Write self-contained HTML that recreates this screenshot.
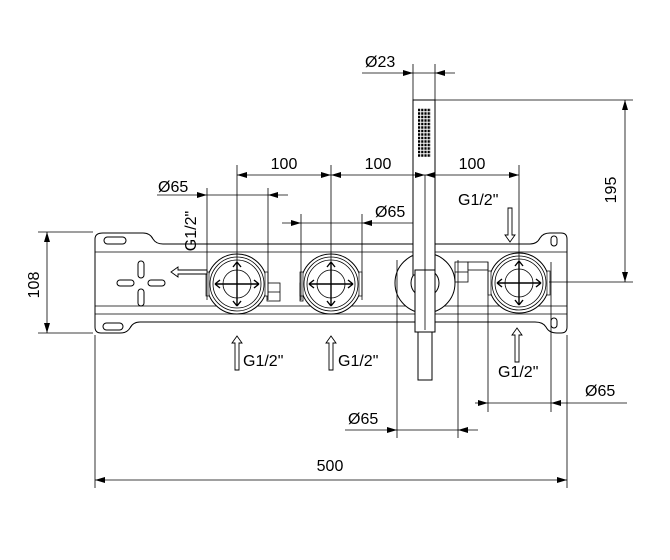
<!DOCTYPE html>
<html><head><meta charset="utf-8"><style>
html,body{margin:0;padding:0;background:#fff}
svg{display:block}
text{font-family:"Liberation Sans",Arial,sans-serif;font-size:16px;fill:#000}
</style></head><body>
<svg width="670" height="560" viewBox="0 0 670 560" xmlns="http://www.w3.org/2000/svg">
<defs>
<marker id="a" markerWidth="10" markerHeight="6" refX="10" refY="3" orient="auto-start-reverse" markerUnits="userSpaceOnUse"><path d="M0,0 L10,3 L0,6 z" fill="#000"/></marker>
<g id="valve">
 <circle r="30" fill="#fff" stroke="#000" stroke-width="1"/>
 <circle r="27" fill="none" stroke="#000" stroke-width="0.8"/>
 <circle r="24" fill="none" stroke="#000" stroke-width="0.8"/>
 <circle r="14" fill="none" stroke="#000" stroke-width="0.8"/>
 <rect x="-31" y="-12" width="3" height="24" fill="#fff" stroke="#000" stroke-width="0.7"/>
 <rect x="28" y="-12" width="3" height="24" fill="#fff" stroke="#000" stroke-width="0.7"/>
 <path d="M-22,0 L22,0 M0,-22 L0,22 M-22,0 L-17,-4 M-22,0 L-17,4 M22,0 L17,-4 M22,0 L17,4 M0,-22 L-4,-17 M0,-22 L4,-17 M0,22 L-4,17 M0,22 L4,17" stroke="#000" stroke-width="1.4" fill="none"/>
</g>
</defs>
<g fill="none" stroke="#000" stroke-width="1">
 <path d="M103,233 L143,233 Q150,233 153,239 Q156,244 163,244 L530,244 Q537,244 540,238 Q543,233 550,233 L561,233 Q567,233 567,239 L567,327 Q567,333 561,333 L557,333 Q549,333 546,327 Q543,322 535,322 L140,322 Q133,322 130,328 Q127,333 120,333 L101,333 Q95,333 95,327 L95,239 Q95,233 103,233 Z"/>
 <path d="M95,252 L567,252 M95,306 L567,306 M95,314 L567,314" stroke-width="0.8"/>
 <rect x="104" y="237" width="22" height="7" rx="3.5"/>
 <rect x="103" y="323" width="20" height="7" rx="3.5"/>
 <rect x="551" y="236" width="6" height="10" rx="3"/>
 <rect x="551" y="318" width="6" height="10" rx="3"/>
 <rect x="138" y="261" width="6" height="17" rx="3"/>
 <rect x="138" y="289" width="6" height="17" rx="3"/>
 <rect x="117" y="280" width="17" height="6" rx="3"/>
 <rect x="148" y="280" width="17" height="6" rx="3"/>
 <rect x="267" y="283" width="13" height="18" fill="#fff" stroke-width="0.8"/>
 <path d="M267,292 L280,292" stroke-width="0.8"/>
 <rect x="300" y="283" width="3" height="18" fill="#fff" stroke-width="0.8"/>
 <rect x="455" y="262" width="13" height="20" fill="#fff" stroke-width="0.8"/>
 <path d="M455,272 L468,272" stroke-width="0.8"/>
 <rect x="468" y="262" width="20" height="8" fill="#fff" stroke-width="0.8"/>
</g>
<use href="#valve" x="237" y="284"/>
<use href="#valve" x="331" y="284"/>
<use href="#valve" x="519" y="283"/>
<g fill="#fff" stroke="#000" stroke-width="1">
 <circle cx="425" cy="283" r="30"/>
 <ellipse cx="425" cy="283" rx="14" ry="14"/>
 <rect x="413" y="100" width="22" height="175"/>
 <rect x="415" y="270" width="20" height="62"/>
 <rect x="418" y="332" width="14" height="48"/>
</g>
<path d="M425,175 L425,330" stroke="#000" stroke-width="0.8"/>
<g stroke="#000" stroke-width="2.6" stroke-dasharray="2.2 1">
 <path d="M418,110 L431,110 M418,113.5 L431,113.5 M418,117 L431,117 M418,120.5 L431,120.5 M418,124 L431,124 M418,127.5 L431,127.5 M418,131 L431,131 M418,134.5 L431,134.5 M418,138 L431,138 M418,141.5 L431,141.5 M418,145 L431,145 M418,148.5 L431,148.5 M418,152 L431,152 M418,155.5 L431,155.5"/>
</g>
<g fill="none" stroke="#000" stroke-width="0.8">
 <path d="M95,335 L95,488 M567,335 L567,488"/>
 <path d="M95,480 L567,480" marker-start="url(#a)" marker-end="url(#a)"/>
 <path d="M38,232 L93,232 M38,333 L93,333"/>
 <path d="M47,232 L47,333" marker-start="url(#a)" marker-end="url(#a)"/>
 <path d="M435,100 L633,100 M549,282 L633,282"/>
 <path d="M625,100 L625,282" marker-start="url(#a)" marker-end="url(#a)"/>
 <path d="M413,64 L413,100 M435,64 L435,100"/>
 <path d="M237,165 L237,262 M331,165 L331,262 M519,165 L519,262"/>
 <path d="M237,175 L331,175" marker-start="url(#a)" marker-end="url(#a)"/>
 <path d="M331,175 L425,175" marker-start="url(#a)" marker-end="url(#a)"/>
 <path d="M425,175 L519,175" marker-start="url(#a)" marker-end="url(#a)"/>
 <path d="M207,188 L207,300 M268,188 L268,300"/>
 <path d="M301,214 L301,300 M362,214 L362,300"/>
 <path d="M397,260 L397,438 M458,260 L458,438"/>
 <path d="M488,262 L488,412 M551,262 L551,412"/>
 <!-- continuous dim lines with outside arrows -->
 <path d="M362,73 L455,73"/>
 <path d="M157,195 L288,195"/>
 <path d="M282,223 L413,223"/>
 <path d="M345,430 L478,430"/>
 <path d="M475,403 L627,403"/>
</g>
<g fill="#000">
 <path d="M403,70 L413,73 L403,76 Z M445,70 L435,73 L445,76 Z"/>
 <path d="M197,192 L207,195 L197,198 Z M278,192 L268,195 L278,198 Z"/>
 <path d="M291,220 L301,223 L291,226 Z M372,220 L362,223 L372,226 Z"/>
 <path d="M387,427 L397,430 L387,433 Z M468,427 L458,430 L468,433 Z"/>
 <path d="M478,400 L488,403 L478,406 Z M561,400 L551,403 L561,406 Z"/>
</g>
<g fill="#fff" stroke="#000" stroke-width="0.9">
 <path d="M207,270 L178,270 L178,267 L171,272 L178,277 L178,274 L207,274 Z"/>
 <path d="M235,370 L235,343 L232,343 L237,336 L242,343 L239,343 L239,370 Z"/>
 <path d="M329,370 L329,343 L326,343 L331,336 L336,343 L333,343 L333,370 Z"/>
 <path d="M515,362 L515,335 L512,335 L517,328 L522,335 L519,335 L519,362 Z"/>
 <path d="M508,208 L508,235 L505,235 L510,242 L515,235 L512,235 L512,208 Z"/>
</g>
<text x="330" y="471" text-anchor="middle">500</text>
<text x="284" y="169" text-anchor="middle">100</text>
<text x="378" y="169" text-anchor="middle">100</text>
<text x="472" y="169" text-anchor="middle">100</text>
<text x="365" y="67">Ø23</text>
<text x="158" y="192">Ø65</text>
<text x="375" y="217">Ø65</text>
<text x="348" y="424">Ø65</text>
<text x="585" y="396">Ø65</text>
<text transform="translate(39,285) rotate(-90)" text-anchor="middle">108</text>
<text transform="translate(616,190) rotate(-90)" text-anchor="middle">195</text>
<text transform="translate(196,231) rotate(-90)" text-anchor="middle">G1/2"</text>
<text x="243" y="366">G1/2"</text>
<text x="338" y="366">G1/2"</text>
<text x="458" y="205">G1/2"</text>
<text x="498" y="377">G1/2"</text>
</svg>
</body></html>
